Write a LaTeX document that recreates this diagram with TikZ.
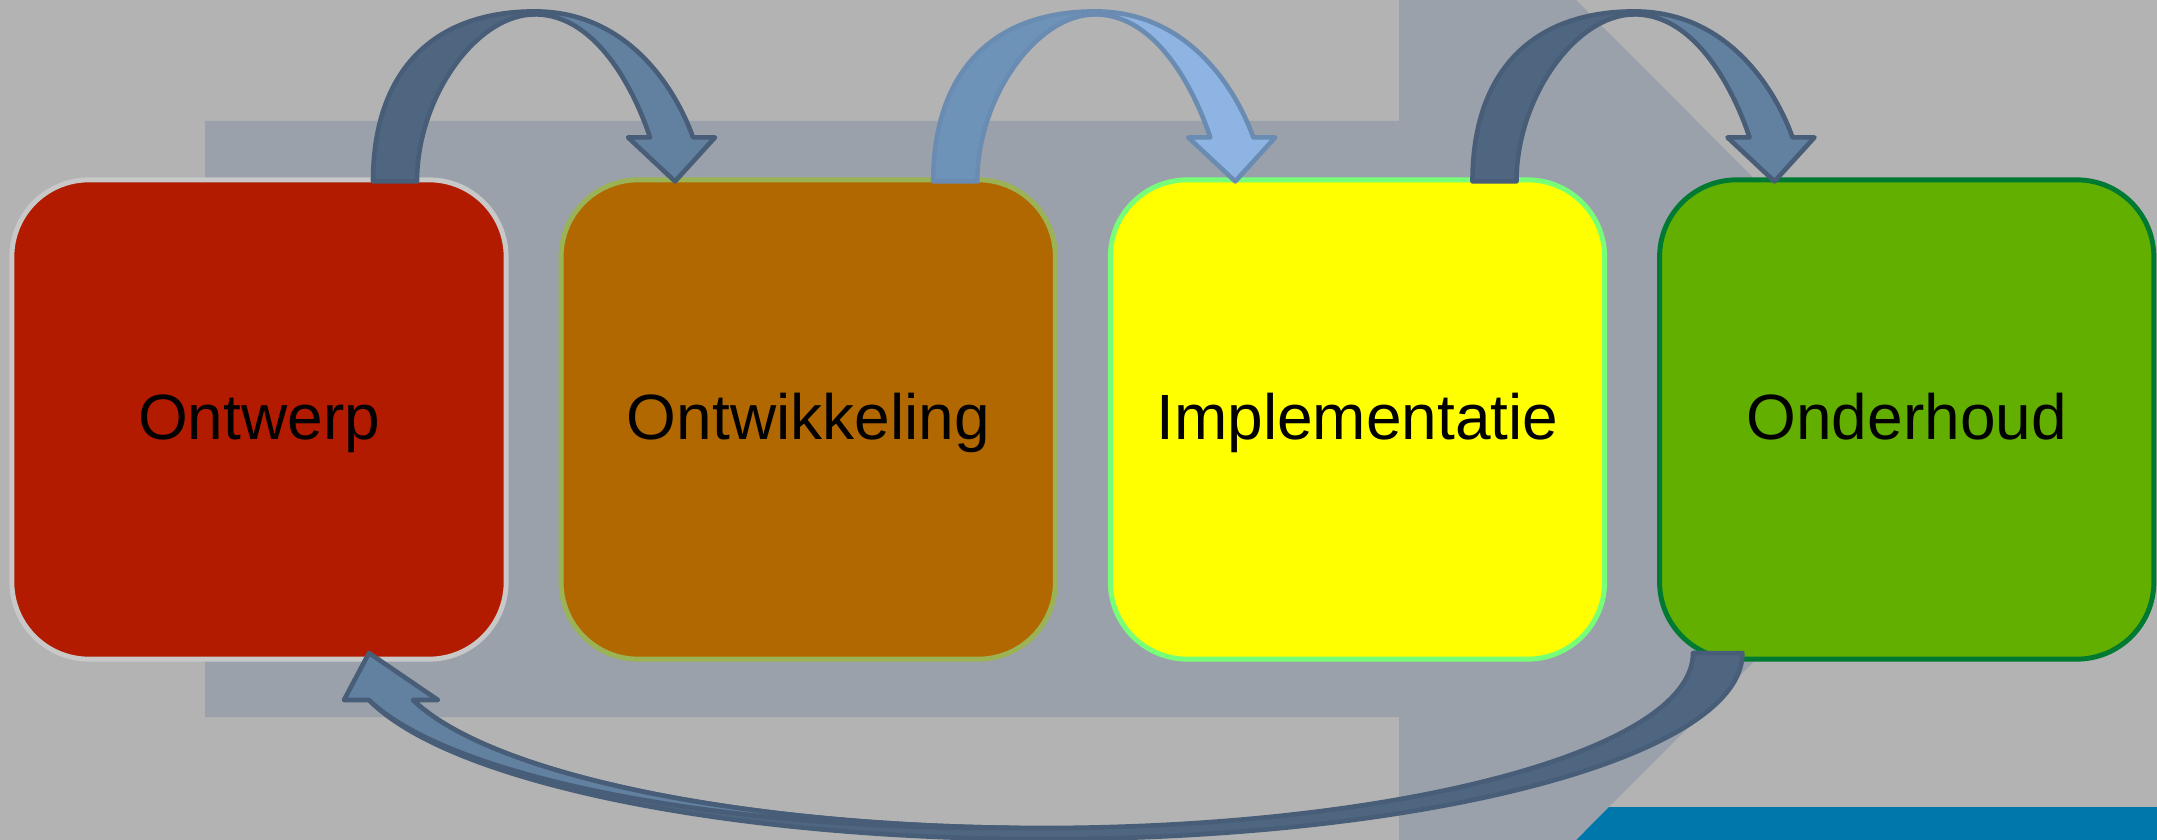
\documentclass[tikz,border=0pt]{standalone}
\usepackage{fontspec}
\setmainfont{Liberation Sans}
\usetikzlibrary{positioning,calc}

\definecolor{achtergrondgrijs}{RGB}{179,179,179}
\definecolor{pijlvlak}{RGB}{154,161,170}
\definecolor{balkblauw}{RGB}{0,119,170}
\definecolor{rood}{RGB}{179,27,0}
\definecolor{randgrijs}{RGB}{200,200,200}
\definecolor{oranje}{RGB}{178,104,0}
\definecolor{randolijf}{RGB}{155,178,85}
\definecolor{geel}{RGB}{255,255,0}
\definecolor{randlicht}{RGB}{119,255,119}
\definecolor{groen}{RGB}{98,175,0}
\definecolor{randgroen}{RGB}{0,122,51}
\definecolor{donkerband}{RGB}{79,102,128}
\definecolor{lichtband}{RGB}{98,128,159}
\definecolor{pijllijn}{RGB}{71,93,120}
\definecolor{blauwband}{RGB}{110,147,184}
\definecolor{hemelband}{RGB}{141,180,226}
\definecolor{blauwlijn}{RGB}{106,140,178}

% gebogen pijl over de bovenkant: #1 verschuiving, #2 achterband, #3 voorband, #4 rand
\newcommand{\boogpijl}[4]{%
  \begin{scope}[shift={#1}]
    \filldraw[pijlrand, draw=#4, fill=#2] (0,0) .. controls (0,-108) and (58,-170) .. (162,-170)
      -- (162,-167) .. controls (103,-167) and (44,-83.5) .. (44,0) -- cycle;
    \filldraw[pijlrand, draw=#4, fill=#3] (162,-170) .. controls (258,-170) and (305,-87) .. (320,-44)
      -- (342,-44) -- (302,0) -- (255,-44) -- (277,-44)
      .. controls (264.6,-82) and (227,-167) .. (162,-167) -- cycle;
  \end{scope}}

\begin{document}
\begin{tikzpicture}[x=0.01cm, y=-0.01cm,
    fase/.style = {draw, rounded corners=0.77cm, minimum width=4.94cm, minimum height=4.79cm,
      line width=1.4pt, text height=13.6pt, text depth=2.3pt, font=\fontsize{18.2}{20}\selectfont},
    pijlrand/.style = {line width=1.3pt, line join=round}]
	% achtergrond
	\fill[achtergrondgrijs] (0,0) rectangle (2157,840);
	\useasboundingbox (0,0) rectangle (2157,840);
	\fill[balkblauw] (1500,807) rectangle (2157,840);
	\fill[pijlvlak] (205,121) -- (1399,121) -- (1399,0) -- (1576,0) -- (1995,420)
		-- (1576,840) -- (1399,840) -- (1399,717) -- (205,717) -- cycle;
	% fasen
	\node[fase, fill=rood, draw=randgrijs] (ontwerp) at (259,419.5) {Ontwerp};
	\node[fase, fill=oranje, draw=randolijf] (ontwikkeling) [right=0.5cm of ontwerp] {Ontwikkeling};
	\node[fase, fill=geel, draw=randlicht] (implementatie) [right=0.5cm of ontwikkeling] {Implementatie};
	\node[fase, fill=groen, draw=randgroen] (onderhoud) [right=0.5cm of implementatie] {Onderhoud};
	% pijlen tussen de fasen
	\boogpijl{($(ontwerp.north)+(114,4)$)}{donkerband}{lichtband}{pijllijn}
	\boogpijl{($(ontwikkeling.north)+(125,4)$)}{blauwband}{hemelband}{blauwlijn}
	\boogpijl{($(implementatie.north)+(115,4)$)}{donkerband}{lichtband}{pijllijn}
	% terug van onderhoud naar ontwerp
	\filldraw[pijlrand, draw=pijllijn, fill=donkerband] (369,700)
		arc[start angle=165.4, end angle=0, x radius=698, y radius=186] -- (1693,653)
		arc[start angle=0, end angle=164.42, x radius=652, y radius=175] -- cycle;
	\filldraw[pijlrand, draw=pijllijn, fill=lichtband] (369,700)
		arc[start angle=164.42, end angle=88.07, x radius=652, y radius=175]
		arc[start angle=91.93, end angle=164.42, x radius=652, y radius=175]
		-- (438,700) -- (369,653) -- (344,700) -- cycle;
\end{tikzpicture}
\end{document}
